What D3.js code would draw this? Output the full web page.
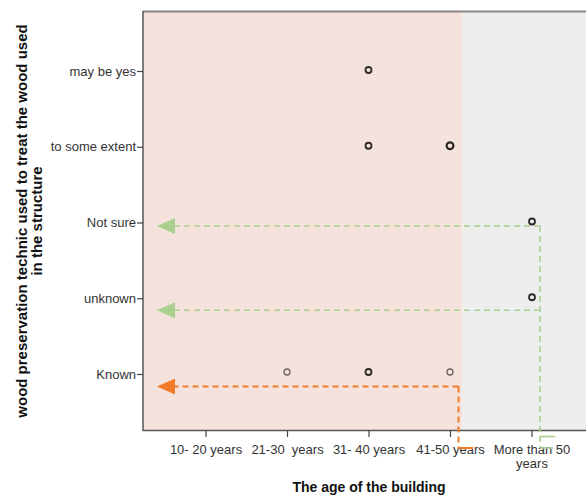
<!DOCTYPE html>
<html><head><meta charset="utf-8">
<script src="https://cdn.jsdelivr.net/npm/d3@7"></script>
<style>body{margin:0;background:#fff}svg{display:block}text{font-family:"Liberation Sans",Arial,sans-serif;white-space:pre}</style>
</head><body>
<svg id="c" width="586" height="496"></svg>
<script>
const ageCategories = ["10- 20 years","21-30  years","31- 40 years","41-50 years","More than 50 years"];
const answerCategories = ["may be yes","to some extent","Not sure","unknown","Known"];
const pointAge = ["31- 40 years","31- 40 years","41-50 years","More than 50 years","More than 50 years","21-30  years","31- 40 years","41-50 years"];
const pointAnswer = ["may be yes","to some extent","to some extent","Not sure","unknown","Known","Known","Known"];
const pointCount = [2,2,3,2,2,1,2,1];
const arrowAnswer = ["Not sure","unknown","Known"];
const xTitle = "The age of the building";
const yTitle = ["wood preservation technic used to treat the wood used","in the structure"];

const svg = d3.select("#c");
const L = 143, T = 11, R = 586, B = 430;
const x = d3.scalePoint().domain(ageCategories).range([205.5, 531.5]);
const y = d3.scalePoint().domain(answerCategories).range([71, 374]);

// backgrounds
const split = x("41-50 years") + 12;
svg.append("rect").attr("x", L).attr("y", T).attr("width", split - L).attr("height", B - T).attr("fill", "#f5e2dc");
svg.append("rect").attr("x", split).attr("y", T).attr("width", R - split).attr("height", B - T).attr("fill", "#eeeeee");

// frame
svg.append("line").attr("x1", L).attr("x2", R).attr("y1", T + 0.5).attr("y2", T + 0.5).attr("stroke", "#8a8583").attr("stroke-width", 2);
svg.append("line").attr("x1", L).attr("x2", L).attr("y1", T).attr("y2", B + 1).attr("stroke", "#555").attr("stroke-width", 1.5);

// axes
const xAxis = d3.axisBottom(x).tickSize(7).tickSizeOuter(0);
const gx = svg.append("g").attr("transform", `translate(0,${B})`).call(xAxis);
gx.select(".domain").attr("d", `M${L},0.5H${R}`).attr("stroke", "#555").attr("stroke-width", 1.5);
gx.selectAll(".tick line").attr("stroke", "#444").attr("stroke-width", 1.2);
gx.selectAll(".tick text").attr("fill", "#333").attr("font-size", 13).attr("dy", "1.05em")
  .each(function(d){
    if (d === "More than 50 years") {
      const t = d3.select(this).text(null);
      t.append("tspan").attr("x", 0).text("More than 50");
      t.append("tspan").attr("x", 0).attr("dy", "1.1em").text("years");
    }
  });

const yAxis = d3.axisLeft(y).tickSize(6).tickSizeOuter(0).tickPadding(1);
const gy = svg.append("g").attr("transform", `translate(${L},0)`).call(yAxis);
gy.select(".domain").remove();
gy.selectAll(".tick line").attr("stroke", "#444").attr("stroke-width", 1.2);
gy.selectAll(".tick text").attr("fill", "#333").attr("font-size", 13);

// titles
svg.append("text").attr("x", 369).attr("y", 492).attr("text-anchor", "middle")
  .attr("font-size", 14).attr("font-weight", "bold").attr("fill", "#111").text(xTitle);
yTitle.forEach((t, i) => {
  svg.append("text").attr("transform", `translate(${27 + i * 15},221) rotate(-90)`)
    .attr("text-anchor", "middle").attr("font-size", 15).attr("font-weight", "bold").attr("fill", "#111").text(t);
});

// arrows
const green = "#a9d08e", orange = "#f27b2a";
const gxLine = 540, oxLine = 458.5;
function arrow(yy, xEnd, color, sw) {
  svg.append("line").attr("x1", xEnd).attr("x2", 172).attr("y1", yy).attr("y2", yy)
    .attr("stroke", color).attr("stroke-width", sw).attr("stroke-dasharray", "6,4");
  svg.append("path").attr("d", `M157,${yy}L175,${yy - 8}L175,${yy + 8}Z`).attr("fill", color);
}
arrowAnswer.forEach((a, i) => {
  const yy = y(a) + (i === 2 ? 12.5 : i === 1 ? 12 : 3.5);
  if (i < 2) arrow(yy, gxLine, green, 1.6);
  else arrow(yy, oxLine, orange, 2);
});
// connectors
svg.append("line").attr("x1", gxLine).attr("x2", gxLine).attr("y1", y("Not sure") + 3.5).attr("y2", 448)
  .attr("stroke", green).attr("stroke-width", 1.6).attr("stroke-dasharray", "6,4");
svg.append("line").attr("x1", gxLine).attr("x2", 555).attr("y1", 436.5).attr("y2", 436.5).attr("stroke", green).attr("stroke-width", 1.6);
svg.append("line").attr("x1", gxLine).attr("x2", 553).attr("y1", 448).attr("y2", 448).attr("stroke", green).attr("stroke-width", 1.6);
svg.append("line").attr("x1", oxLine).attr("x2", oxLine).attr("y1", y("Known") + 12.5).attr("y2", 448)
  .attr("stroke", orange).attr("stroke-width", 2).attr("stroke-dasharray", "6,4");
svg.append("line").attr("x1", oxLine).attr("x2", 473).attr("y1", 448).attr("y2", 448).attr("stroke", orange).attr("stroke-width", 2);

// points
const pts = pointAge.map((a, i) => ({a, b: pointAnswer[i], n: pointCount[i]}));
svg.append("g").selectAll("circle").data(pts).join("circle")
  .attr("cx", d => x(d.a) + (d.a === "More than 50 years" ? 0.5 : 0))
  .attr("cy", d => y(d.b) - (d.b === "Known" ? 2 : 1))
  .attr("r", d => d.n >= 3 ? 3.4 : 3)
  .attr("fill", "none")
  .attr("stroke", d => d.n === 1 ? "#6b6360" : "#2e2a28")
  .attr("stroke-width", d => d.n === 1 ? 1.3 : d.n >= 3 ? 2.2 : 1.8);
</script>
</body></html>
